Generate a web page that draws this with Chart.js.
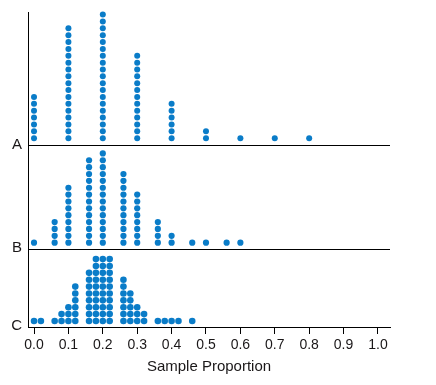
<!DOCTYPE html>
<html>
<head>
<meta charset="utf-8">
<script src="https://cdn.jsdelivr.net/npm/chart.js@4"></script>
<style>
  html, body { margin: 0; padding: 0; background: #fff; }
  #wrap { width: 436px; height: 385px; }
</style>
</head>
<body>
<div id="wrap"><canvas id="c" width="436" height="385"></canvas></div>
<script>
// ---- data ----
const aProps  = [0.0, 0.1, 0.2, 0.3, 0.4, 0.5, 0.6, 0.7, 0.8];
const aCounts = [7, 17, 19, 13, 6, 2, 1, 1, 1];

const bProps  = [0.0, 0.06, 0.1, 0.16, 0.2, 0.26, 0.3, 0.36, 0.4, 0.46, 0.5, 0.56, 0.6];
const bCounts = [1, 4, 9, 13, 14, 11, 8, 4, 2, 1, 1, 1, 1];

const cProps  = [0.0, 0.02, 0.06, 0.08, 0.10, 0.12, 0.16, 0.18, 0.20, 0.22, 0.26, 0.28, 0.30, 0.32, 0.36, 0.38, 0.40, 0.42, 0.46];
const cCounts = [1, 1, 1, 2, 3, 6, 8, 10, 10, 10, 7, 5, 3, 2, 1, 1, 1, 1, 1];

const panelLabels = ['A', 'B', 'C'];
const xTickValues = [0.0, 0.1, 0.2, 0.3, 0.4, 0.5, 0.6, 0.7, 0.8, 0.9, 1.0];
const xTitle = 'Sample Proportion';

// ---- layout constants (in dot units on the y scale) ----
const panelBase = { A: 26.42, B: 11.35, C: 0 };
const firstDotGap = { A: 1.06, B: 0.92, C: 0.88 };
const yMax = 45.85;

function stack(props, counts, base, gap) {
  const pts = [];
  props.forEach((p, i) => {
    for (let k = 0; k < counts[i]; k++) pts.push({ x: p, y: base + gap + k });
  });
  return pts;
}

const dotColor = '#0a7cc8';
const textColor = '#1a1718';

new Chart(document.getElementById('c'), {
  type: 'scatter',
  data: {
    datasets: [
      { label: 'A', data: stack(aProps, aCounts, panelBase.A, firstDotGap.A), pointRadius: 3.0 },
      { label: 'B', data: stack(bProps, bCounts, panelBase.B, firstDotGap.B), pointRadius: 3.1 },
      { label: 'C', data: stack(cProps, cCounts, panelBase.C, firstDotGap.C), pointRadius: 3.3 }
    ].map(d => Object.assign(d, {
      backgroundColor: dotColor, borderWidth: 0, pointHoverRadius: d.pointRadius, clip: false
    }))
  },
  options: {
    responsive: false,
    animation: false,
    layout: { padding: { left: 0, right: 46, top: 12, bottom: 0 } },
    plugins: { legend: { display: false }, tooltip: { enabled: false } },
    scales: {
      x: {
        type: 'linear',
        min: -0.0175,
        max: 1.035,
        afterBuildTicks: s => { s.ticks = xTickValues.map(v => ({ value: v })); },
        afterFit: s => { s.height = 58; s.paddingLeft = 0; s.paddingRight = 0; },
        border: { display: true, color: '#000', width: 1 },
        grid: { drawOnChartArea: false, drawTicks: true, tickLength: 7, color: '#000', lineWidth: 1 },
        ticks: {
          padding: 3,
          maxRotation: 0,
          autoSkip: false,
          color: textColor,
          font: { family: '"Liberation Sans", Arial, sans-serif', size: 14 },
          callback: v => Number(v).toFixed(1)
        },
        title: {
          display: true,
          text: xTitle,
          color: textColor,
          padding: { top: 4, bottom: 9 },
          font: { family: '"Liberation Sans", Arial, sans-serif', size: 15 }
        }
      },
      y: {
        type: 'linear',
        min: 0,
        max: yMax,
        afterBuildTicks: s => {
          s.ticks = [panelBase.C, panelBase.B, panelBase.A].map(v => ({ value: v }));
        },
        afterFit: s => { s.width = 28; s.paddingTop = 0; s.paddingBottom = 0; },
        border: { display: true, color: '#000', width: 1 },
        grid: { drawOnChartArea: true, drawTicks: false, color: '#000', lineWidth: 1 },
        ticks: {
          padding: 6,
          labelOffset: -1,
          autoSkip: false,
          color: textColor,
          font: { family: '"Liberation Sans", Arial, sans-serif', size: 15 },
          callback: v => {
            if (Math.abs(v - panelBase.A) < 1e-6) return panelLabels[0];
            if (Math.abs(v - panelBase.B) < 1e-6) return panelLabels[1];
            return panelLabels[2];
          }
        }
      }
    }
  }
});
</script>
</body>
</html>
